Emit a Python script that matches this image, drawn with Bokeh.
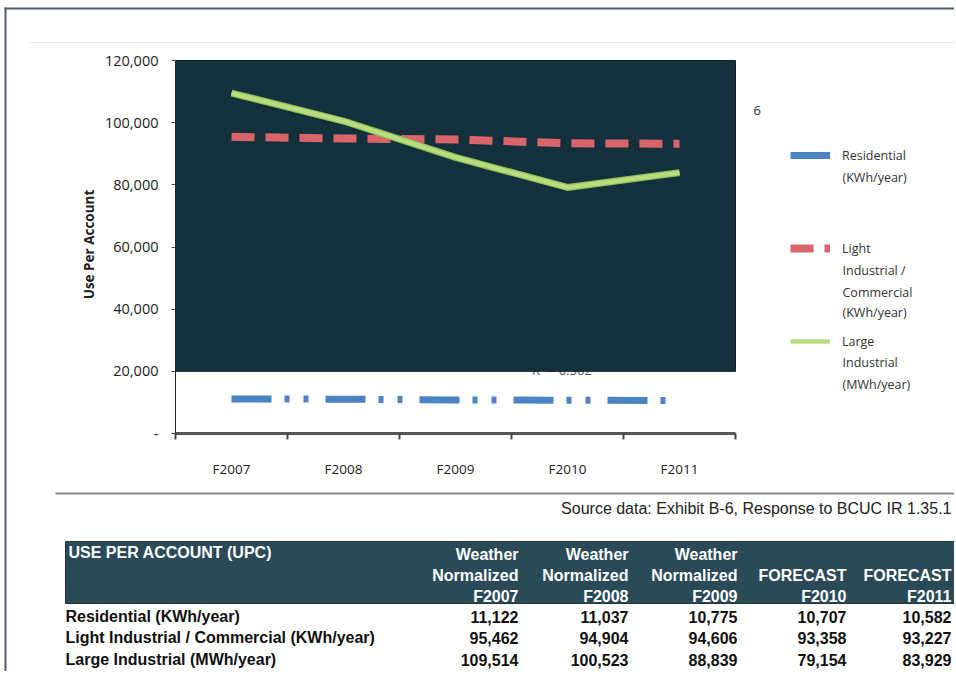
from bokeh.plotting import figure
from bokeh.models import (Range1d, FixedTicker, Legend, LegendItem, LinearAxis,
                          ColumnDataSource, NumeralTickFormatter)
from bokeh.embed import file_html
from bokeh.resources import INLINE
from bokeh.core.properties import value
import math

# ---------------- data ----------------
years = ["F2007", "F2008", "F2009", "F2010", "F2011"]
residential = [11122, 11037, 10775, 10707, 10582]
light_industrial = [95462, 94904, 94606, 93358, 93227]
large_industrial = [109514, 100523, 88839, 79154, 83929]

y_ticks = [0, 20000, 40000, 60000, 80000, 100000, 120000]

legend_lines = {
    "Residential": ["Residential", "(KWh/year)"],
    "Light": ["Light", "Industrial /", "Commercial", "(KWh/year)"],
    "Large": ["Large", "Industrial", "(MWh/year)"],
}
y_title = "Use Per Account"

table_title = "USE PER ACCOUNT (UPC)"
header_top = ["Weather", "Weather", "Weather", "", ""]
header_mid = ["Normalized", "Normalized", "Normalized", "FORECAST", "FORECAST"]
row_labels = ["Residential (KWh/year)",
              "Light Industrial / Commercial  (KWh/year)",
              "Large Industrial (MWh/year)"]
source_text = "Source data: Exhibit B-6, Response to BCUC IR 1.35.1"

FONT = "Open Sans"
TFONT = "Liberation Sans"

# ---------------- layout (pixels) ----------------
W, H = 954, 671
PLOT_LEFT, PLOT_RIGHT, PLOT_TOP, PLOT_BOTTOM = 175, 735, 60, 433
Y_MAX = y_ticks[-1]
ppu_x = (PLOT_RIGHT - PLOT_LEFT) / len(years)
ppu_y = (PLOT_BOTTOM - PLOT_TOP) / Y_MAX

p = figure(width=W, height=H, output_backend="svg", toolbar_location=None,
           x_range=Range1d(-PLOT_LEFT / ppu_x, (W - PLOT_LEFT) / ppu_x),
           y_range=Range1d(-(H - PLOT_BOTTOM) / ppu_y, Y_MAX + PLOT_TOP / ppu_y),
           x_axis_location=None, y_axis_location=None,
           min_border=0, min_border_left=0, min_border_right=0,
           min_border_top=0, min_border_bottom=0)
p.title.visible = False
p.outline_line_color = None
p.grid.visible = False
p.background_fill_color = "white"
p.border_fill_color = "white"
p.extra_x_ranges = {"px": Range1d(0, W)}
p.extra_y_ranges = {"px": Range1d(H, 0)}

def ptext(x, y, text, **kw):
    kw.setdefault("text_font", value(FONT))
    kw.setdefault("text_baseline", "middle")
    p.text(x=x, y=y, text=text, x_range_name="px", y_range_name="px", **kw)

# page frame lines (scan border)
p.line(x=[4, W + 10], y=[8, 8], line_color="#4f5d70", line_width=2,
       x_range_name="px", y_range_name="px")
p.line(x=[5, 5], y=[7, H + 10], line_color="#4f5d70", line_width=2,
       x_range_name="px", y_range_name="px")
p.line(x=[30, W + 10], y=[42, 42], line_color="#e4e6ea", line_width=1,
       x_range_name="px", y_range_name="px")

# ---------------- chart ----------------
xs = [i + 0.5 for i in range(len(years))]

# partially hidden trendline label (drawn first, covered by the dark panel)
p.text(x=[3.45], y=[20300], text=["R² = 0.562"], text_font=value(FONT),
       text_font_size="13px", text_color="#555555", text_align="center",
       text_baseline="middle")

# dark plot panel
p.quad(left=[0], right=[len(years)], bottom=[y_ticks[1]], top=[Y_MAX],
       fill_color="#15303d", line_color="#0e222c", line_width=1)

src = ColumnDataSource(dict(x=xs, res=residential, light=light_industrial,
                            large=large_industrial))
r_res = p.line("x", "res", source=src, line_color="#4a84c4", line_width=7,
               line_dash="40 13 5 14 5 17")
r_light = p.line("x", "light", source=src, line_color="#d9646a", line_width=8,
                 line_dash="23 11")
p.line("x", "large", source=src, line_color="#8fbf55", line_width=7)
r_large = p.line("x", "large", source=src, line_color="#b8dc80", line_width=4.5)

# axes, fixed at the data origin
xa = LinearAxis(fixed_location=0, bounds=(0, len(years)))
xa.ticker = FixedTicker(ticks=xs, minor_ticks=list(range(len(years) + 1)))
xa.major_label_overrides = {x: y for x, y in zip(xs, years)}
xa.major_tick_line_color = None
xa.minor_tick_line_color = "#444444"
xa.minor_tick_line_width = 2
xa.minor_tick_out = 6
xa.minor_tick_in = 0
xa.axis_line_color = "#555555"
xa.axis_line_width = 3
xa.major_label_standoff = 20
xa.major_label_text_font = FONT
xa.major_label_text_font_size = "13.5px"
xa.major_label_text_color = "#222222"
p.add_layout(xa, "below")

ya = LinearAxis(fixed_location=0, bounds=(0, Y_MAX))
ya.ticker = FixedTicker(ticks=y_ticks, minor_ticks=[])
ya.formatter = NumeralTickFormatter(format="0,0")
ya.major_label_overrides = {0: "-"}
ya.axis_line_color = "#222222"
ya.axis_line_width = 1
ya.major_tick_out = 4
ya.major_tick_in = 0
ya.major_tick_line_color = "#444444"
ya.major_label_standoff = 13
ya.major_label_text_font = FONT
ya.major_label_text_font_size = "14.5px"
ya.major_label_text_color = "#222222"
p.add_layout(ya, "left")

# y title
ptext([88], [244], [y_title], angle=math.pi / 2, text_align="center",
      text_font_size="13.5px", text_font_style="bold", text_color="#222222")

# stray trendline digit at the right edge of the panel
ptext([753], [110], ["6"], text_font_size="13px", text_color="#333333")

# legend (first lines) + continuation lines
legend = Legend(items=[
    LegendItem(label=legend_lines["Residential"][0], renderers=[r_res]),
    LegendItem(label=legend_lines["Light"][0], renderers=[r_light]),
    LegendItem(label=legend_lines["Large"][0], renderers=[r_large]),
], location=(790, H - 351), orientation="vertical", padding=0, margin=0,
    spacing=73, glyph_width=40, glyph_height=20, label_height=20,
    label_standoff=12, border_line_color=None, background_fill_alpha=0,
    label_text_font=FONT, label_text_font_size="12.5px",
    label_text_color="#333333")
p.add_layout(legend, "center")

cont_y = {"Residential": [177], "Light": [270, 292, 312], "Large": [362, 384]}
for key, ys in cont_y.items():
    ptext([842] * len(ys), ys, legend_lines[key][1:], text_font_size="12.5px",
          text_color="#333333")

# ---------------- table ----------------
col_right = [518, 628, 737, 846, 951]
label_left = 65
row_y = [616, 637, 659]
TS = "16px"

p.line(x=[55, W + 10], y=[493, 493], line_color="#8a8a8a", line_width=2,
       x_range_name="px", y_range_name="px")
ptext([951], [508], [source_text], text_font=value(TFONT), text_font_size=TS,
      text_color="#222222", text_align="right")
p.quad(left=[65], right=[W + 10], top=[541], bottom=[603], fill_color="#2b4a58",
       line_color="#22333d", x_range_name="px", y_range_name="px")

hdr = dict(text_font=value(TFONT), text_font_size=TS, text_font_style="bold",
           text_color="white")
ptext([label_left + 3], [552], [table_title], **hdr)
ptext(col_right, [554] * 5, header_top, text_align="right", **hdr)
ptext(col_right, [575] * 5, header_mid, text_align="right", **hdr)
ptext(col_right, [596] * 5, years, text_align="right", **hdr)

body = dict(text_font=value(TFONT), text_font_size=TS, text_font_style="bold",
            text_color="#111111")
ptext([label_left] * 3, row_y, row_labels, **body)
for series, yy in zip([residential, light_industrial, large_industrial], row_y):
    ptext(col_right, [yy] * 5, [f"{v:,}" for v in series], text_align="right",
          **body)

open("out.html", "w").write(file_html(p, INLINE))
